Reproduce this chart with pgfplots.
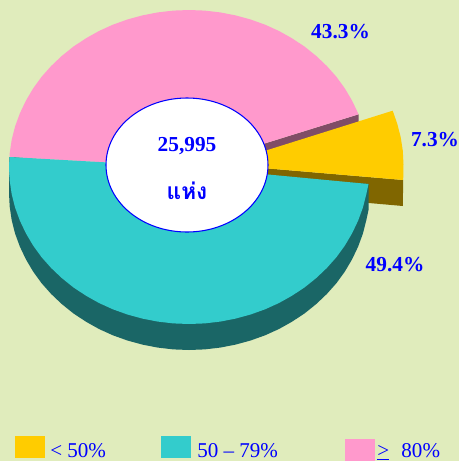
\documentclass[border=0pt]{standalone}
\usepackage{fontspec}
\setmainfont{Liberation Serif}
\newfontfamily\thaifont[Script=Thai]{Loma}
\usepackage{pgfplots}
\pgfplotsset{compat=1.18}
\definecolor{bg}{HTML}{E0ECBC}
\definecolor{pinkc}{HTML}{FF99CC}
\definecolor{pinkd}{HTML}{804D66}
\definecolor{yel}{HTML}{FFCC00}
\definecolor{yeld}{HTML}{806600}
\definecolor{cya}{HTML}{33CCCC}
\definecolor{cyad}{HTML}{1A6666}
\definecolor{txt}{HTML}{0000FF}
\tikzset{
  lab/.style={font=\fontsize{16}{18}\selectfont\bfseries,text=txt,inner sep=0pt,anchor=center},
  leg/.style={font=\fontsize{15.8}{18}\selectfont,text=txt,inner sep=0pt,anchor=base west},
}
\begin{document}
\begin{tikzpicture}
\begin{axis}[
  scale only axis,width=344.25pt,height=345.75pt,
  xmin=0,xmax=459,ymin=0,ymax=461,y dir=reverse,
  hide axis,
]
% background
\addplot[fill=bg,draw=none] coordinates {(0,0)(459,0)(459,461)(0,461)} --cycle;
% pink side
\addplot[fill=pinkd,draw=none] coordinates {(189,167)(358.6,114.3)(358.6,140.3)(189,193)} --cycle;
% pink top
\addplot[fill=pinkc,draw=none] coordinates {(189,167)(9.5,157)(9.7,153.3)(11.7,139.7)(15.1,126.4)(19.9,113.3)(25.9,100.7)(33.1,88.5)(41.5,76.9)(51.1,66.1)(61.7,56)(73.3,46.7)(85.8,38.4)(99,31)(112.9,24.7)(127.4,19.5)(142.4,15.4)(157.8,12.4)(173.3,10.6)(189,10)(204.7,10.6)(220.2,12.4)(235.6,15.4)(250.6,19.5)(265.1,24.7)(279,31)(292.2,38.4)(304.7,46.7)(316.3,56)(326.9,66.1)(336.5,76.9)(344.9,88.5)(352.1,100.7)(358.1,113.3)(358.6,114.3)} --cycle;
% yellow side
\addplot[fill=yeld,draw=none] coordinates {(221.5,164.5)(403.2,180)(402.8,206)(221.5,190)} --cycle;
% yellow top
\addplot[fill=yel,draw=none] coordinates {(221.5,164.5)(392.7,110.7)(397.3,123.9)(400.7,137.2)(402.8,150.8)(403.5,164.5)(403.3,175)(403.2,180)} --cycle;
% cyan side
\addplot[fill=cyad,draw=none] coordinates {(9.5,157)(9,193)(9.7,206.7)(11.7,220.3)(15.1,233.6)(19.9,246.7)(25.9,259.3)(33.1,271.5)(41.5,283.1)(51.1,293.9)(61.7,304)(73.3,313.3)(85.8,321.6)(99,329)(112.9,335.3)(127.4,340.5)(142.4,344.6)(157.8,347.6)(173.3,349.4)(189,350)(204.7,349.4)(220.2,347.6)(235.6,344.6)(250.6,340.5)(265.1,335.3)(279,329)(292.2,321.6)(304.7,313.3)(316.3,304)(326.9,293.9)(336.5,283.1)(344.9,271.5)(352.1,259.3)(358.1,246.7)(362.9,233.6)(366.3,220.3)(368.5,210)(368.5,184)} --cycle;
% cyan top
\addplot[fill=cya,draw=none] coordinates {(189,167)(9.5,157)(9,167)(9.7,180.7)(11.7,194.3)(15.1,207.6)(19.9,220.7)(25.9,233.3)(33.1,245.5)(41.5,257.1)(51.1,267.9)(61.7,278)(73.3,287.3)(85.8,295.6)(99,303)(112.9,309.3)(127.4,314.5)(142.4,318.6)(157.8,321.6)(173.3,323.4)(189,324)(204.7,323.4)(220.2,321.6)(235.6,318.6)(250.6,314.5)(265.1,309.3)(279,303)(292.2,295.6)(304.7,287.3)(316.3,278)(326.9,267.9)(336.5,257.1)(344.9,245.5)(352.1,233.3)(358.1,220.7)(362.9,207.6)(366.3,194.3)(368.5,184)} --cycle;
% legend swatches
\addplot[fill=yel,draw=none] coordinates {(15,436)(45,436)(45,458)(15,458)} --cycle;
\addplot[fill=cya,draw=none] coordinates {(161,436)(191,436)(191,458)(161,458)} --cycle;
\addplot[fill=pinkc,draw=none] coordinates {(345,439)(375,439)(375,461)(345,461)} --cycle;
% hole
\draw[fill=white,draw=txt,line width=0.8pt] (axis cs:187,165) ellipse [x radius=81,y radius=67];
% labels
\node[lab] at (axis cs:340.5,32) {43.3\%};
\node[lab] at (axis cs:435,140) {7.3\%};
\node[lab] at (axis cs:395,265) {49.4\%};
\node[lab] at (axis cs:187,146) {25,995};
\node[lab,font=\fontsize{17}{18}\selectfont\bfseries\thaifont] at (axis cs:187,191) {แห่ง};
\node[leg] at (axis cs:50,457.5) {< 50\%};
\node[leg] at (axis cs:197,457.5) {50 – 79\%};
\node[leg] at (axis cs:377,457.5) {\underline{>}\, \,80\%};
\end{axis}
\end{tikzpicture}
\end{document}
